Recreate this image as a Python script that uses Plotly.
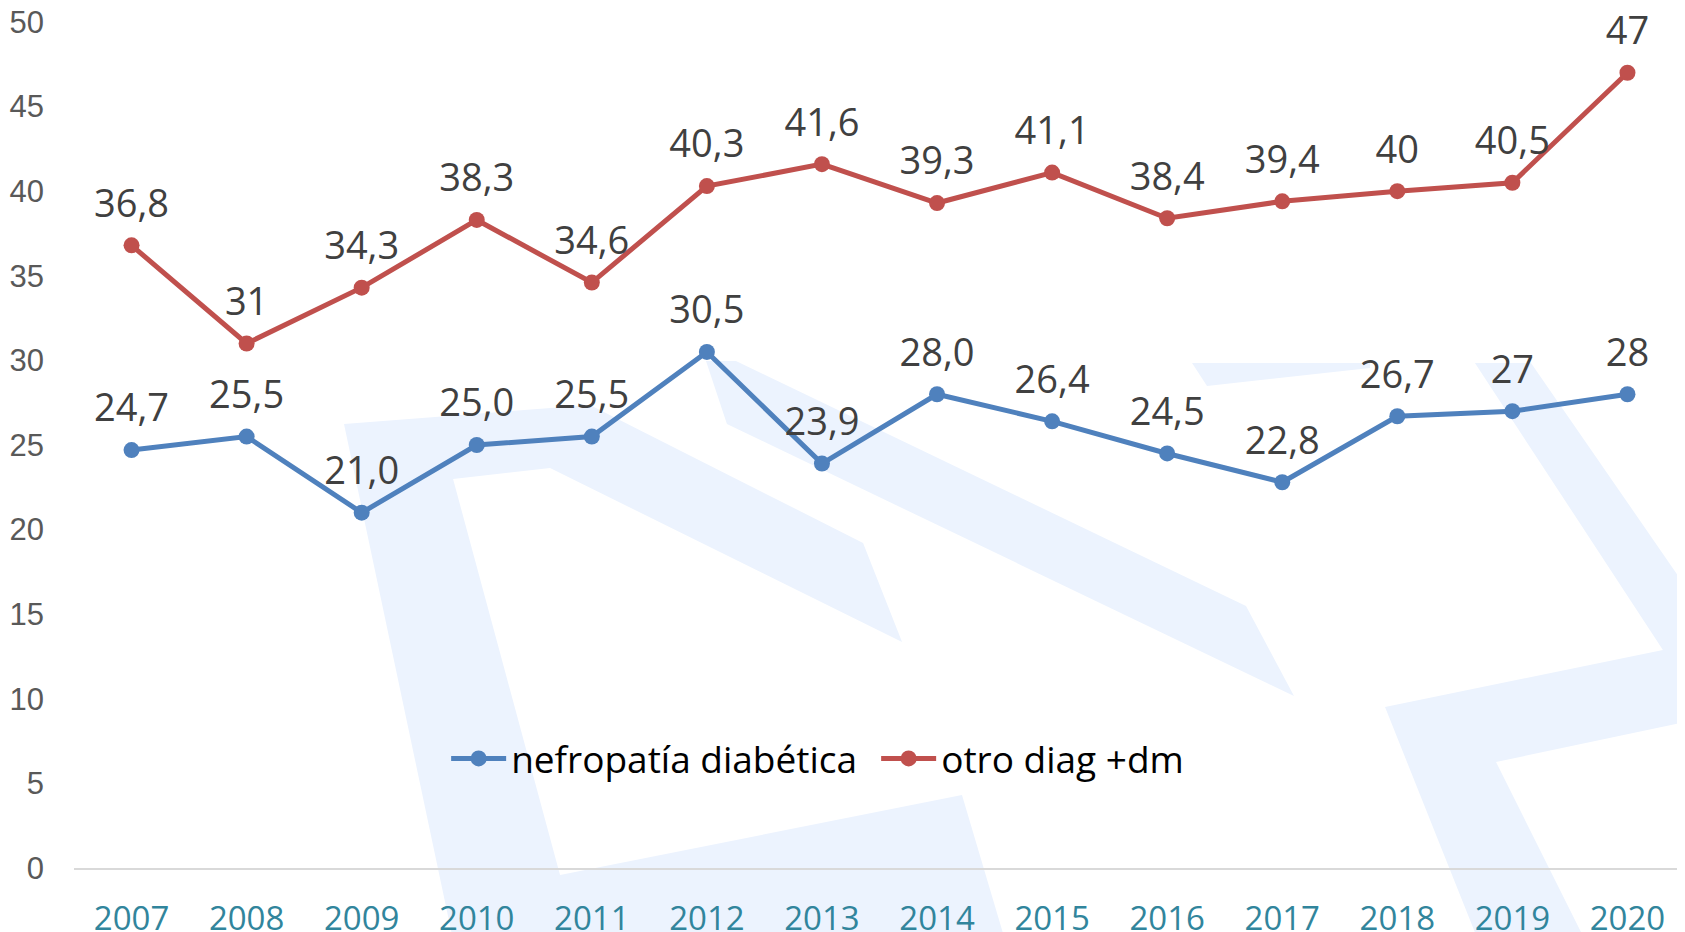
import plotly.graph_objects as go

years = ["2007", "2008", "2009", "2010", "2011", "2012", "2013",
         "2014", "2015", "2016", "2017", "2018", "2019", "2020"]
nefro = [24.7, 25.5, 21.0, 25.0, 25.5, 30.5, 23.9, 28.0, 26.4, 24.5, 22.8, 26.7, 27, 28]
nefro_labels = ["24,7", "25,5", "21,0", "25,0", "25,5", "30,5", "23,9",
                "28,0", "26,4", "24,5", "22,8", "26,7", "27", "28"]
otro = [36.8, 31, 34.3, 38.3, 34.6, 40.3, 41.6, 39.3, 41.1, 38.4, 39.4, 40, 40.5, 47]
otro_labels = ["36,8", "31", "34,3", "38,3", "34,6", "40,3", "41,6",
               "39,3", "41,1", "38,4", "39,4", "40", "40,5", "47"]
y_ticks = [0, 5, 10, 15, 20, 25, 30, 35, 40, 45, 50]

W, H = 1685, 932
# page has an 8px body margin; plot area on the page spans x 74..1685, y 22..868
OFF = 8
PL, PT, PR, PB = 74, 22, 1685, 868
PW, PH = PR - PL, PB - PT
ML, MT = PL - OFF, PT - OFF
MR = W - ML - PW
MB = H - MT - PH

# decorative watermark (page-pixel outlines of a faint logo behind the chart)
watermark = [
    [(344, 424), (590, 405), (863, 543), (902, 642), (550, 468), (453, 479),
     (560, 875), (962, 795), (1005, 940), (453, 940)],
    [(706, 361), (736, 361), (1246, 606), (1294, 696), (727, 424)],
    [(1475, 363), (1531, 363), (1690, 593), (1690, 721), (1496, 762),
     (1585, 940), (1478, 940), (1385, 707), (1663, 650)],
    [(1192, 363), (1370, 363), (1370, 368), (1207, 386)],
]


def to_path(pts):
    parts = []
    for i, (x, y) in enumerate(pts):
        px = (x - PL) / PW
        py = (PB - y) / PH
        parts.append(("M" if i == 0 else "L") + f"{px:.4f},{py:.4f}")
    return " ".join(parts) + " Z"


shapes = [dict(type="path", path=to_path(p), xref="paper", yref="paper",
               fillcolor="#ECF3FE", line=dict(width=0), layer="below")
          for p in watermark]

LABEL_FONT = dict(family="Open Sans", size=38, color="#404040")

fig = go.Figure()
for name, vals, labels, color in [
    ("nefropatía diabética", nefro, nefro_labels, "#4F81BD"),
    ("otro diag +dm", otro, otro_labels, "#C0504D"),
]:
    fig.add_trace(go.Scatter(
        x=years, y=vals, name=name, mode="lines+markers",
        line=dict(color=color, width=5), marker=dict(size=16, color=color),
    ))
    # data labels, lifted above the points by an invisible larger marker
    fig.add_trace(go.Scatter(
        x=years, y=vals, mode="markers+text", showlegend=False, hoverinfo="skip",
        marker=dict(size=29, color="rgba(0,0,0,0)"), cliponaxis=False,
        text=labels, textposition="top center", textfont=LABEL_FONT,
    ))

fig.update_layout(
    width=W, height=H,
    margin=dict(l=ML, r=MR, t=MT, b=MB, autoexpand=False),
    plot_bgcolor="rgba(0,0,0,0)", paper_bgcolor="white",
    shapes=shapes,
    showlegend=True,
    legend=dict(orientation="h", x=0.231, xanchor="left", y=0.129, yanchor="middle",
                font=dict(family="Open Sans", size=37, color="#000000"),
                bgcolor="rgba(0,0,0,0)", itemwidth=55, tracegroupgap=0,
                entrywidth=360, entrywidthmode="pixels"),
    xaxis=dict(type="category", range=[-0.5, 13.5], showgrid=False, zeroline=False,
               showline=True, linecolor="#D9D9D9", linewidth=2, ticks="",
               automargin=False, ticklabeloverflow="allow",
               tickfont=dict(family="Open Sans", size=33, color="#31859C"),
               ticklabelstandoff=20),
    yaxis=dict(range=[0, 50], tickvals=y_ticks, showgrid=False, zeroline=False,
               showline=False, ticks="", automargin=False, ticklabeloverflow="allow",
               tickfont=dict(family="Liberation Sans", size=31, color="#595959"),
               ticklabelstandoff=29),
)

fig.write_html("out.html")
